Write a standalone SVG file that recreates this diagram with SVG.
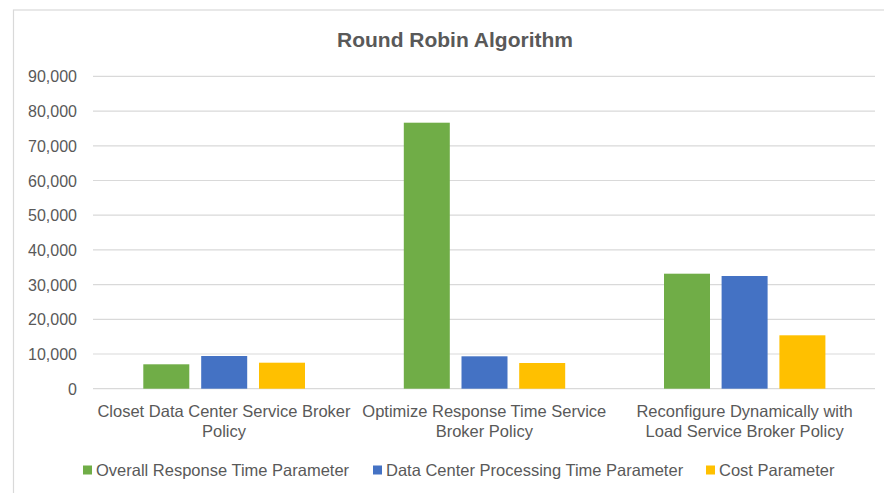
<svg xmlns="http://www.w3.org/2000/svg" width="884" height="493" viewBox="0 0 884 493">
<style>
.t{font-family:"Liberation Sans",Arial,sans-serif;fill:#595959}
.title{font-size:21px;font-weight:bold;text-anchor:middle}
.ax{font-size:16px;text-anchor:end}
.cat{font-size:16.5px;text-anchor:middle}
.lg{font-size:16.5px}
.grid{stroke:#d9d9d9;stroke-width:1.2}
.g{fill:#70ad47}
.b{fill:#4472c4}
.y{fill:#ffc000}
</style>
<rect x="0" y="0" width="884" height="493" fill="#ffffff"/>
<rect x="13.5" y="10" width="880" height="500" fill="#ffffff" stroke="#d9d9d9" stroke-width="1.2"/>
<g id="title"><text class="t title" x="455" y="47">Round Robin Algorithm</text></g>
<g id="axis">
<g class="grid">
<line x1="93" y1="76.4" x2="875" y2="76.4"/>
<line x1="93" y1="111.1" x2="875" y2="111.1"/>
<line x1="93" y1="145.8" x2="875" y2="145.8"/>
<line x1="93" y1="180.5" x2="875" y2="180.5"/>
<line x1="93" y1="215.2" x2="875" y2="215.2"/>
<line x1="93" y1="249.9" x2="875" y2="249.9"/>
<line x1="93" y1="284.6" x2="875" y2="284.6"/>
<line x1="93" y1="319.3" x2="875" y2="319.3"/>
<line x1="93" y1="354.0" x2="875" y2="354.0"/>
<line x1="93" y1="388.7" x2="875" y2="388.7"/>
</g>
<text class="t ax" x="77" y="82.4">90,000</text>
<text class="t ax" x="77" y="117.1">80,000</text>
<text class="t ax" x="77" y="151.8">70,000</text>
<text class="t ax" x="77" y="186.5">60,000</text>
<text class="t ax" x="77" y="221.2">50,000</text>
<text class="t ax" x="77" y="255.9">40,000</text>
<text class="t ax" x="77" y="290.6">30,000</text>
<text class="t ax" x="77" y="325.3">20,000</text>
<text class="t ax" x="77" y="360.0">10,000</text>
<text class="t ax" x="77" y="394.7">0</text>
</g>
<g id="group1">
<rect class="g" x="143.3" y="364.3" width="46" height="24.4"/>
<rect class="b" x="201.2" y="356.0" width="46" height="32.7"/>
<rect class="y" x="259" y="362.7" width="46" height="26"/>
<text class="t cat" x="224" y="417">Closet Data Center Service Broker</text>
<text class="t cat" x="224" y="437">Policy</text>
</g>
<g id="group2">
<rect class="g" x="403.8" y="122.7" width="46" height="266"/>
<rect class="b" x="461.5" y="356.3" width="46" height="32.4"/>
<rect class="y" x="519.2" y="363" width="46" height="25.7"/>
<text class="t cat" x="484.3" y="417">Optimize Response Time Service</text>
<text class="t cat" x="484.3" y="437">Broker Policy</text>
</g>
<g id="group3">
<rect class="g" x="664" y="273.7" width="46" height="115"/>
<rect class="b" x="721.6" y="276" width="46" height="112.7"/>
<rect class="y" x="779.4" y="335.3" width="46" height="53.4"/>
<text class="t cat" x="744.6" y="417">Reconfigure Dynamically with</text>
<text class="t cat" x="744.6" y="437">Load Service Broker Policy</text>
</g>
<g id="legend">
<rect class="g" x="83" y="465.5" width="9" height="9"/>
<text class="t lg" x="96" y="476">Overall Response Time Parameter</text>
<rect class="b" x="373" y="465.5" width="9" height="9"/>
<text class="t lg" x="386" y="476">Data Center Processing Time Parameter</text>
<rect class="y" x="706" y="465.5" width="9" height="9"/>
<text class="t lg" x="719" y="476">Cost Parameter</text>
</g>
<g id="connectors"></g>
</svg>
